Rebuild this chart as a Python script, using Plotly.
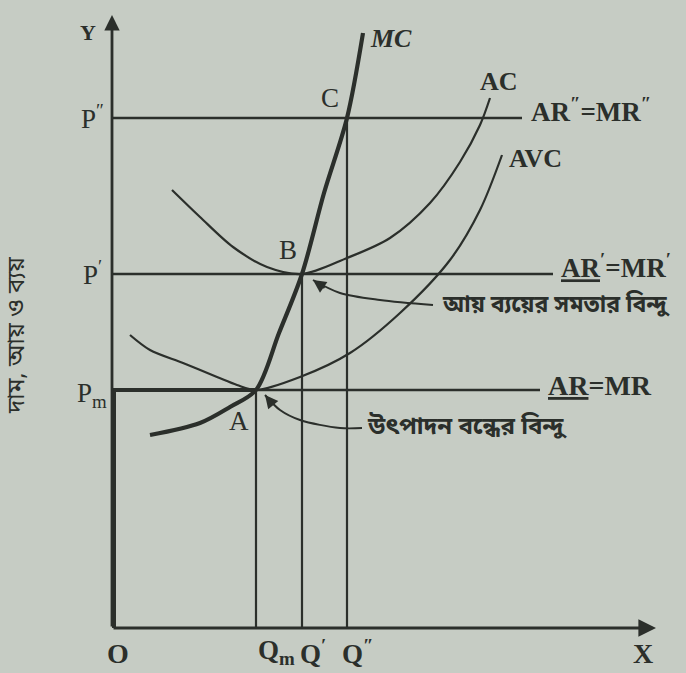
import plotly.graph_objects as go

# Output levels on the quantity axis: Qm (shutdown), Q' (break-even), Q'' (profit)
quantity_levels = [2.88, 3.80, 4.70]
quantity_labels = ["Q<sub>m</sub>", "Q<sup>′</sup>", "Q<sup>″</sup>"]

# Price levels: Pm, P', P''
price_levels = [4.76, 7.08, 10.20]
price_labels = ["P<sub>m</sub>", "P<sup>′</sup>", "P<sup>″</sup>"]
revenue_labels = ["<u>AR</u>=MR", "<u>AR</u><sup>′</sup>=MR<sup>′</sup>", "AR<sup>″</sup>=MR<sup>″</sup>"]
point_labels = ["A", "B", "C"]

# Marginal cost curve
mc_q = [0.76, 1.76, 2.36, 2.88, 3.34, 3.80, 4.24, 4.70, 5.02]
mc_c = [3.86, 4.10, 4.42, 4.76, 5.90, 7.08, 8.70, 10.20, 11.90]

# Average cost curve
ac_q = [1.20, 1.76, 2.42, 3.10, 3.80, 4.70, 5.56, 6.36, 6.96, 7.36, 7.56]
ac_c = [8.76, 8.22, 7.62, 7.22, 7.08, 7.40, 7.80, 8.50, 9.32, 10.06, 10.60]

# Average variable cost curve
avc_q = [0.36, 0.76, 1.42, 2.10, 2.50, 2.88, 3.76, 4.76, 5.76, 6.76, 7.36, 7.80]
avc_c = [5.86, 5.56, 5.30, 5.02, 4.86, 4.76, 5.02, 5.50, 6.30, 7.36, 8.36, 9.46]

# Callout leaders (curved) pointing at B and A
breakeven_q = [6.42, 5.36, 4.56, 4.02]
breakeven_c = [6.46, 6.56, 6.70, 6.96]
shutdown_q = [5.00, 4.56, 3.76, 3.36, 3.06]
shutdown_c = [4.00, 4.00, 4.16, 4.36, 4.66]

INK = "#2b2f2b"
PAPER = "#c6ccc4"
SERIF = "Liberation Serif, Times New Roman, serif"
BENGALI = "Noto Sans Bengali, Lohit Bengali, FreeSans, Noto Sans, sans-serif"

# Extents of the revenue lines to the right
line_ends = [8.56, 8.82, 8.20]

fig = go.Figure()


def seg(xs, ys, width, smooth=False):
    fig.add_trace(go.Scatter(
        x=xs, y=ys, mode="lines",
        line=dict(color=INK, width=width,
                  shape="spline" if smooth else "linear",
                  smoothing=0.9 if smooth else None),
        hoverinfo="skip", showlegend=False))


# Cost curves
seg(ac_q, ac_c, 2.2, smooth=True)
seg(avc_q, avc_c, 2.2, smooth=True)
seg(mc_q, mc_c, 4.2, smooth=True)

# Revenue (price) lines
seg([0, quantity_levels[0]], [price_levels[0]] * 2, 4.0)
seg([quantity_levels[0], line_ends[0]], [price_levels[0]] * 2, 2.6)
seg([0, line_ends[1]], [price_levels[1]] * 2, 2.6)
seg([0, line_ends[2]], [price_levels[2]] * 2, 2.6)

# Drop lines to the quantity axis
for q, p in zip(quantity_levels, price_levels):
    seg([q, q], [0, p], 2.2)

# Heavy segment from Pm down to the origin
seg([0.04, 0.04], [0, price_levels[0]], 4.0)

# Callout leaders
seg(breakeven_q, breakeven_c, 2.0, smooth=True)
seg(shutdown_q, shutdown_c, 2.0, smooth=True)

ann = []

# Axes drawn as arrows
ann.append(dict(x=0, y=12.26, ax=0, ay=0, xref="x", yref="y", axref="x", ayref="y",
                showarrow=True, arrowhead=2, arrowsize=1.1, arrowwidth=2.8,
                arrowcolor=INK, text=""))
ann.append(dict(x=10.88, y=0, ax=0, ay=0, xref="x", yref="y", axref="x", ayref="y",
                showarrow=True, arrowhead=2, arrowsize=1.1, arrowwidth=3.2,
                arrowcolor=INK, text=""))

# Arrowheads of the callouts
ann.append(dict(x=4.02, y=6.96, ax=13, ay=9, xref="x", yref="y",
                showarrow=True, arrowhead=2, arrowsize=1.3, arrowwidth=2,
                arrowcolor=INK, text=""))
ann.append(dict(x=3.06, y=4.66, ax=9, ay=11, xref="x", yref="y",
                showarrow=True, arrowhead=2, arrowsize=1.3, arrowwidth=2,
                arrowcolor=INK, text=""))


def label(x, y, text, size=28, xanchor="center", family=SERIF, angle=0, weight="bold"):
    ann.append(dict(x=x, y=y, xref="x", yref="y", text=text, showarrow=False,
                    xanchor=xanchor, yanchor="middle", textangle=angle,
                    font=dict(family=family, size=size, color=INK, weight=weight)))


# Curve names
label(5.58, 11.80, "<i>MC</i>", size=26)
label(7.74, 10.94, "AC", size=26)
label(8.46, 9.40, "AVC", size=26)

# Intersection points
for (px, py), t in zip([(2.54, 4.14), (3.52, 7.56), (4.36, 10.60)], point_labels):
    label(px, py, t, size=27, weight="normal")

# Price labels on the vertical axis
for p, t, dy in zip(price_levels, price_labels, [-0.10, 0.02, 0.02]):
    label(-0.40, p + dy, t, size=27, weight="normal")

# Revenue line labels
label(8.68, 4.86, revenue_labels[0], size=28, xanchor="left")
label(8.94, 7.24, revenue_labels[1], size=27, xanchor="left")
label(8.34, 10.36, revenue_labels[2], size=27, xanchor="left")

# Quantity axis labels
label(0.12, -0.50, "O", size=28)
for q, t, dx in zip(quantity_levels, quantity_labels, [0.40, 0.22, 0.20]):
    label(q + dx, -0.48, t, size=27)
label(10.62, -0.50, "X", size=28)
label(-0.48, 11.92, "Y", size=22)

# Callout texts
label(6.56, 6.46, "আয় ব্যয়ের সমতার বিন্দু", size=23, xanchor="left", family=BENGALI)
label(5.06, 4.00, "উৎপাদন বন্ধের বিন্দু", size=24, xanchor="left", family=BENGALI)

# Vertical axis title
label(-1.88, 5.86, "দাম, আয় ও ব্যয়", size=24, family=BENGALI, angle=-90, weight="normal")

fig.update_layout(
    width=686, height=673,
    margin=dict(l=0, r=0, t=0, b=0),
    paper_bgcolor=PAPER, plot_bgcolor=PAPER,
    xaxis=dict(range=[-2.24, 11.48], visible=False, fixedrange=True),
    yaxis=dict(range=[-0.90, 12.56], visible=False, fixedrange=True),
    annotations=ann,
    showlegend=False,
)

fig.write_html("out.html")
